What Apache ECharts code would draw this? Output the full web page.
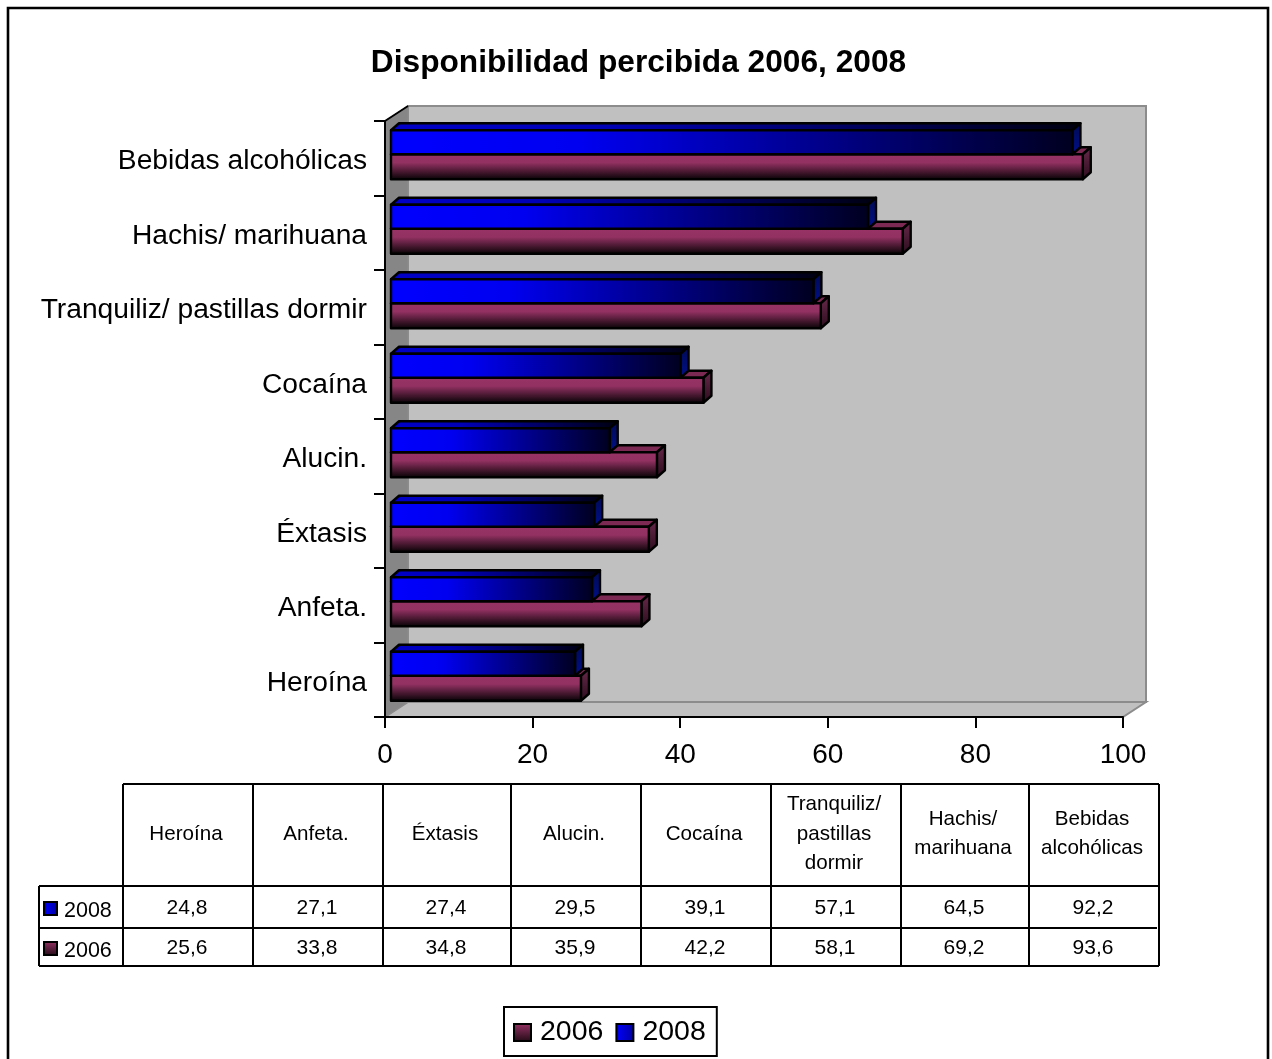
<!DOCTYPE html>
<html><head><meta charset="utf-8">
<style>html,body{margin:0;padding:0;background:#fff}#c{width:1272px;height:1059px}</style>
<script src="https://cdn.jsdelivr.net/npm/echarts@6/dist/echarts.min.js"></script>
</head><body><div id="c"></div>
<script>
const categories = ['Heroína','Anfeta.','Éxtasis','Alucin.','Cocaína','Tranquiliz/ pastillas dormir','Hachis/ marihuana','Bebidas alcohólicas'];
const tableHeaders = ['Heroína','Anfeta.','Éxtasis','Alucin.','Cocaína','Tranquiliz/\npastillas\ndormir','Hachis/\nmarihuana','Bebidas\nalcohólicas'];
const values2008 = [24.8,27.1,27.4,29.5,39.1,57.1,64.5,92.2];
const values2006 = [25.6,33.8,34.8,35.9,42.2,58.1,69.2,93.6];
const xTicks = [0,20,40,60,80,100];

const FONT = '"Liberation Sans", Arial, sans-serif';
const G = {l:385, t:121, w:738, h:596, dx:23, dy:15};
const grad = (x2,y2,stops)=>({type:'linear',x:0,y:0,x2,y2,colorStops:stops.map(s=>({offset:s[0],color:s[1]}))});
const purpleFront = ()=>grad(0,1,[[0,'#993366'],[0.35,'#923162'],[1,'#000000']]);
const blueFront = ()=>grad(1,0,[[0,'#0000ff'],[0.28,'#0000f0'],[1,'#000020']]);

function barItem(kind){
  return function(params, api){
    const v = api.value(0), p = api.coord([v, api.value(1)]), o = api.coord([0, api.value(1)]);
    const x0 = o[0]+6, x1 = p[0]+7, c = p[1];
    const top = kind==='blue' ? c-28 : c-4;
    const bot = kind==='blue' ? c-4 : c+21;
    const d = 8, e = 7;
    const st = {stroke:'#000', lineWidth:2.4, lineJoin:'round'};
    const poly = (pts,fill)=>({type:'polygon',shape:{points:pts},style:Object.assign({fill},st)});
    const topFace = kind==='blue' ? grad(1,0,[[0,'#0000c8'],[0.3,'#0000b8'],[1,'#000010']]) : '#7c2a53';
    const sideFace = kind==='blue' ? grad(0,1,[[0,'#000a50'],[1,'#00108a']]) : grad(0,1,[[0,'#6a2a4c'],[1,'#2a0c1c']]);
    return {type:'group',children:[
      poly([[x0,top],[x0+d,top-e],[x1+d,top-e],[x1,top]],topFace),
      poly([[x1,top],[x1+d,top-e],[x1+d,bot-e],[x1,bot]],sideFace),
      poly([[x0,top],[x1,top],[x1,bot],[x0,bot]],kind==='blue'?blueFront():purpleFront())
    ]};
  };
}

const gfx = [];
const {l,t,w,h,dx,dy} = G;
// walls
gfx.push({type:'polygon',z:-5,shape:{points:[[l+dx,t-dy],[l+w+dx,t-dy],[l+w+dx,t+h-dy],[l+dx,t+h-dy]]},style:{fill:'#c0c0c0',stroke:'#8c8c8c',lineWidth:2}});
gfx.push({type:'polygon',z:-4,shape:{points:[[l,t+h],[l+dx,t+h-dy],[l+w+dx,t+h-dy],[l+w,t+h]]},style:{fill:'#c0c0c0',stroke:'#8c8c8c',lineWidth:2}});
gfx.push({type:'polygon',z:-3,shape:{points:[[l,t],[l+dx,t-dy],[l+dx,t+h-dy],[l,t+h]]},style:{fill:'#868686',stroke:'#8c8c8c',lineWidth:1}});
gfx.push({type:'line',z:-2,shape:{x1:l,y1:t,x2:l+dx,y2:t-dy},style:{stroke:'#000',lineWidth:2}});
// outer frame
gfx.push({type:'rect',z:-6,shape:{x:8,y:8,width:1260,height:1060},style:{fill:'#fff',stroke:'#000',lineWidth:2.6}});

// data table
const colX = [123,253,383,511,641,771,901,1029,1159];
const rowY = {top:784,head:886,mid:928,bot:966}, tLeft = 39;
const ln=(x1,y1,x2,y2)=>gfx.push({type:'line',shape:{x1,y1,x2,y2},style:{stroke:'#000',lineWidth:2}});
ln(colX[0],rowY.top,colX[8],rowY.top);
ln(tLeft,rowY.head,colX[8],rowY.head);
ln(tLeft,rowY.mid,colX[8]-2,rowY.mid);
ln(tLeft,rowY.bot,colX[8],rowY.bot);
ln(tLeft,rowY.head,tLeft,rowY.bot);
colX.forEach(x=>ln(x,rowY.top,x,rowY.bot));
const txt=(x,y,text,size,lh)=>gfx.push({type:'text',x,y,style:{text,font:size+'px '+FONT,fill:'#000',align:'center',verticalAlign:'middle',lineHeight:lh}});
const fmt=v=>String(v).replace('.',',');
tableHeaders.forEach((s,i)=>{
  const cx=(colX[i]+colX[i+1])/2;
  txt(cx-2,(rowY.top+rowY.head)/2-1,s,20.6,29.5);
  txt(cx-1,908,fmt(values2008[i]),21);
  txt(cx-1,948,fmt(values2006[i]),21);
});
const rowLabel=(y,label,fill)=>{
  gfx.push({type:'rect',shape:{x:44,y:y-7,width:13,height:13},style:{fill,stroke:'#000',lineWidth:2}});
  gfx.push({type:'text',x:64,y:y+2,style:{text:label,font:'21.5px '+FONT,fill:'#000',align:'left',verticalAlign:'middle'}});
};
const swatchBlue = ()=>grad(1,0,[[0,'#0000ff'],[1,'#0000a0']]);
const swatchPurple = ()=>grad(0,1,[[0,'#993366'],[1,'#200a14']]);
rowLabel(909,'2008',swatchBlue());
rowLabel(949,'2006',swatchPurple());

const chart = echarts.init(document.getElementById('c'),null,{renderer:'canvas'});
chart.setOption({
  animation:false,
  backgroundColor:'#fff',
  title:{text:'Disponibilidad percibida 2006, 2008',left:633.5,top:42,textAlign:'center',
    textStyle:{fontFamily:FONT,fontSize:31.7,fontWeight:'bold',color:'#000'}},
  legend:{left:504,top:1007,orient:'horizontal',padding:[11,11,9,9],itemWidth:17,itemHeight:17,itemGap:12,
    borderColor:'#000',borderWidth:2,backgroundColor:'#fff',
    textStyle:{fontFamily:FONT,fontSize:28.5,color:'#000',padding:[0,0,0,4]},
    data:[
      {name:'2006',icon:'rect',itemStyle:{color:swatchPurple(),borderColor:'#000',borderWidth:2}},
      {name:'2008',icon:'rect',itemStyle:{color:swatchBlue(),borderColor:'#000',borderWidth:2}}
    ]},
  grid:{left:l,top:t,width:w,height:h,containLabel:false},
  xAxis:{type:'value',min:0,max:100,interval:xTicks[1]-xTicks[0],splitLine:{show:false},
    axisLine:{show:true,onZero:false,lineStyle:{color:'#000',width:2}},
    axisTick:{show:true,length:11,lineStyle:{color:'#000',width:2}},
    axisLabel:{fontFamily:FONT,fontSize:28,color:'#000',margin:24,hideOverlap:false}},
  yAxis:{type:'category',data:categories,
    axisLine:{show:true,lineStyle:{color:'#000',width:2}},
    axisTick:{show:true,length:11,alignWithLabel:false,lineStyle:{color:'#000',width:2}},
    axisLabel:{fontFamily:FONT,fontSize:28.2,color:'#000',margin:18,interval:0,align:'right',verticalAlign:'top',lineHeight:6}},
  graphic:{elements:gfx},
  series:[
    {name:'2006',type:'custom',z:3,encode:{x:0,y:1},renderItem:barItem('purple'),clip:false,
     data:values2006.map((v,i)=>[v,i])},
    {name:'2008',type:'custom',z:4,encode:{x:0,y:1},renderItem:barItem('blue'),clip:false,
     data:values2008.map((v,i)=>[v,i])}
  ]
});
</script></body></html>
